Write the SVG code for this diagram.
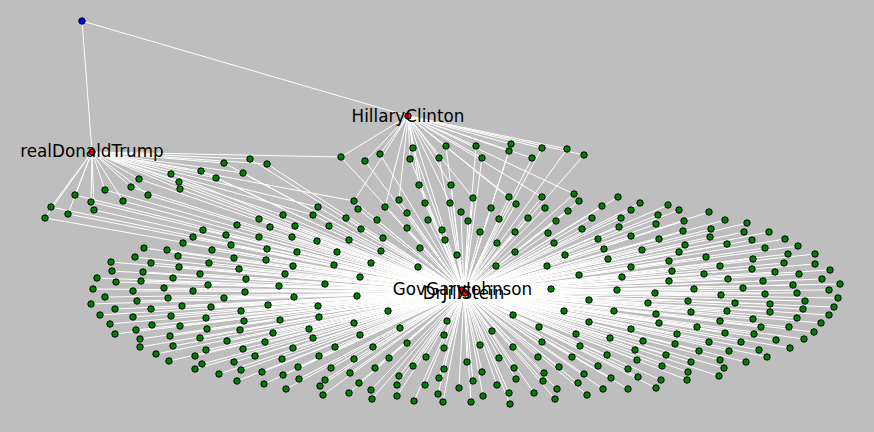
<svg xmlns="http://www.w3.org/2000/svg" width="874" height="432" viewBox="0 0 874 432">
<style>
.e path{stroke:#fff;stroke-width:1;fill:none}
.n circle{fill:#008000;stroke:#000;stroke-width:1}
.r circle{fill:#f00;stroke:#000;stroke-width:1}
.b circle{fill:#00f;stroke:#000;stroke-width:1}
text{font-family:"DejaVu Sans",Verdana,sans-serif;font-size:16.8px;fill:#000;text-anchor:middle}
</style>
<rect width="874" height="432" fill="#bebebe"/>
<g id="connectors" class="e">
<path d="M82 21L92 152"/><path d="M82 21L408 116"/>
<path d="M92 152L464 292"/><path d="M408 116L464 292"/>
<path d="M92 152L341 157"/><path d="M92 152L318 207"/><path d="M92 152L313 215"/><path d="M92 152L283 215"/><path d="M92 152L354 201"/>
<path d="M408 116L419 185"/><path d="M408 116L451 185"/><path d="M408 116L399 200"/><path d="M408 116L425 203"/><path d="M408 116L450 203"/><path d="M408 116L473 198"/><path d="M408 116L509 197"/><path d="M408 116L385 207"/><path d="M408 116L354 201"/><path d="M408 116L542 197"/><path d="M408 116L574 194"/><path d="M408 116L516 204"/>
<path d="M92 152L250 159"/><path d="M92 152L224 163"/><path d="M92 152L267 164"/><path d="M92 152L201 171"/><path d="M92 152L243 173"/><path d="M92 152L171 174"/><path d="M92 152L216 178"/><path d="M92 152L179 182"/><path d="M92 152L180 189"/><path d="M92 152L139 179"/><path d="M92 152L131 187"/><path d="M92 152L148 195"/><path d="M92 152L105 190"/><path d="M92 152L75 195"/><path d="M92 152L123 201"/><path d="M92 152L91 202"/><path d="M92 152L94 210"/><path d="M92 152L51 207"/><path d="M92 152L68 214"/><path d="M92 152L45 218"/>
<path d="M408 116L341 157"/><path d="M408 116L365 161"/><path d="M408 116L380 154"/><path d="M408 116L413 148"/><path d="M408 116L410 159"/><path d="M408 116L446 146"/><path d="M408 116L439 158"/><path d="M408 116L476 146"/><path d="M408 116L482 158"/><path d="M408 116L511 144"/><path d="M408 116L509 151"/><path d="M408 116L532 158"/><path d="M408 116L542 148"/><path d="M408 116L567 149"/><path d="M408 116L584 155"/>
<path d="M464 292L250 159"/><path d="M464 292L224 163"/><path d="M464 292L267 164"/><path d="M464 292L201 171"/><path d="M464 292L243 173"/><path d="M464 292L171 174"/><path d="M464 292L216 178"/><path d="M464 292L179 182"/><path d="M464 292L180 189"/><path d="M464 292L139 179"/><path d="M464 292L131 187"/><path d="M464 292L148 195"/><path d="M464 292L105 190"/><path d="M464 292L75 195"/><path d="M464 292L123 201"/><path d="M464 292L91 202"/><path d="M464 292L94 210"/><path d="M464 292L51 207"/><path d="M464 292L68 214"/><path d="M464 292L45 218"/>
<path d="M464 292L341 157"/><path d="M464 292L365 161"/><path d="M464 292L380 154"/><path d="M464 292L413 148"/><path d="M464 292L410 159"/><path d="M464 292L446 146"/><path d="M464 292L439 158"/><path d="M464 292L476 146"/><path d="M464 292L482 158"/><path d="M464 292L511 144"/><path d="M464 292L509 151"/><path d="M464 292L532 158"/><path d="M464 292L542 148"/><path d="M464 292L567 149"/><path d="M464 292L584 155"/>
<path d="M464 292L283 215"/><path d="M464 292L259 219"/><path d="M464 292L237 225"/><path d="M464 292L270 227"/><path d="M464 292L295 226"/><path d="M464 292L203 230"/><path d="M464 292L226 235"/><path d="M464 292L193 237"/><path d="M464 292L259 237"/><path d="M464 292L292 237"/><path d="M464 292L183 243"/><path d="M464 292L231 245"/><path d="M464 292L144 248"/><path d="M464 292L167 250"/><path d="M464 292L212 250"/><path d="M464 292L267 249"/><path d="M464 292L297 252"/><path d="M464 292L135 257"/><path d="M464 292L178 256"/><path d="M464 292L234 258"/><path d="M464 292L266 260"/><path d="M464 292L111 262"/><path d="M464 292L151 263"/><path d="M464 292L209 263"/><path d="M464 292L112 271"/><path d="M464 292L143 272"/><path d="M464 292L179 267"/><path d="M464 292L239 269"/><path d="M464 292L293 266"/><path d="M464 292L200 274"/><path d="M464 292L285 274"/><path d="M464 292L97 278"/><path d="M464 292L116 282"/><path d="M464 292L141 281"/><path d="M464 292L173 278"/><path d="M464 292L246 279"/><path d="M464 292L93 289"/><path d="M464 292L133 291"/><path d="M464 292L164 288"/><path d="M464 292L193 291"/><path d="M464 292L208 285"/><path d="M464 292L279 286"/><path d="M464 292L245 292"/><path d="M464 292L105 297"/><path d="M464 292L168 298"/><path d="M464 292L224 298"/><path d="M464 292L294 297"/><path d="M464 292L91 304"/><path d="M464 292L137 301"/><path d="M464 292L182 306"/><path d="M464 292L211 307"/><path d="M464 292L268 305"/><path d="M464 292L115 309"/><path d="M464 292L151 309"/><path d="M464 292L241 311"/><path d="M464 292L100 315"/><path d="M464 292L133 317"/><path d="M464 292L171 316"/><path d="M464 292L206 318"/><path d="M464 292L280 320"/><path d="M464 292L244 321"/><path d="M464 292L110 324"/><path d="M464 292L152 325"/><path d="M464 292L180 326"/><path d="M464 292L207 329"/><path d="M464 292L240 330"/><path d="M464 292L136 330"/><path d="M464 292L115 334"/><path d="M464 292L170 336"/><path d="M464 292L200 338"/><path d="M464 292L273 333"/><path d="M464 292L227 341"/><path d="M464 292L140 339"/><path d="M464 292L140 347"/><path d="M464 292L173 346"/><path d="M464 292L206 350"/><path d="M464 292L243 349"/><path d="M464 292L265 342"/><path d="M464 292L293 348"/><path d="M464 292L156 354"/><path d="M464 292L195 356"/><path d="M464 292L255 356"/><path d="M464 292L282 359"/><path d="M464 292L169 361"/><path d="M464 292L202 364"/><path d="M464 292L234 362"/><path d="M464 292L298 367"/><path d="M464 292L195 369"/><path d="M464 292L241 370"/><path d="M464 292L262 372"/><path d="M464 292L283 375"/><path d="M464 292L219 374"/><path d="M464 292L299 379"/><path d="M464 292L237 381"/><path d="M464 292L264 384"/><path d="M464 292L286 389"/>
<path d="M464 292L419 185"/><path d="M464 292L451 185"/><path d="M464 292L354 201"/><path d="M464 292L318 207"/><path d="M464 292L358 209"/><path d="M464 292L399 200"/><path d="M464 292L385 207"/><path d="M464 292L425 203"/><path d="M464 292L450 203"/><path d="M464 292L473 198"/><path d="M464 292L509 197"/><path d="M464 292L516 204"/><path d="M464 292L542 197"/><path d="M464 292L574 194"/><path d="M464 292L579 201"/><path d="M464 292L545 208"/><path d="M464 292L568 211"/><path d="M464 292L313 215"/><path d="M464 292L346 218"/><path d="M464 292L407 213"/><path d="M464 292L461 212"/><path d="M464 292L491 208"/><path d="M464 292L377 220"/><path d="M464 292L428 220"/><path d="M464 292L468 221"/><path d="M464 292L499 219"/><path d="M464 292L528 218"/><path d="M464 292L556 221"/><path d="M464 292L329 226"/><path d="M464 292L361 229"/><path d="M464 292L407 228"/><path d="M464 292L442 230"/><path d="M464 292L480 232"/><path d="M464 292L515 232"/><path d="M464 292L548 233"/><path d="M464 292L582 229"/><path d="M464 292L317 241"/><path d="M464 292L349 240"/><path d="M464 292L383 238"/><path d="M464 292L445 240"/><path d="M464 292L497 243"/><path d="M464 292L554 243"/><path d="M464 292L420 248"/><path d="M464 292L337 252"/><path d="M464 292L381 251"/><path d="M464 292L457 255"/><path d="M464 292L515 252"/><path d="M464 292L565 255"/><path d="M464 292L334 265"/><path d="M464 292L371 263"/><path d="M464 292L418 267"/><path d="M464 292L496 266"/><path d="M464 292L547 266"/><path d="M464 292L579 275"/><path d="M464 292L360 277"/><path d="M464 292L325 284"/><path d="M464 292L357 296"/><path d="M464 292L551 289"/><path d="M464 292L589 300"/>
<path d="M464 292L318 306"/><path d="M464 292L319 317"/><path d="M464 292L388 311"/><path d="M464 292L354 323"/><path d="M464 292L309 329"/><path d="M464 292L400 328"/><path d="M464 292L313 338"/><path d="M464 292L360 335"/><path d="M464 292L447 321"/><path d="M464 292L444 335"/><path d="M464 292L407 343"/><path d="M464 292L444 348"/><path d="M464 292L335 347"/><path d="M464 292L373 347"/><path d="M464 292L513 315"/><path d="M464 292L564 311"/><path d="M464 292L492 331"/><path d="M464 292L539 327"/><path d="M464 292L576 334"/><path d="M464 292L480 345"/><path d="M464 292L513 347"/><path d="M464 292L542 342"/><path d="M464 292L319 356"/><path d="M464 292L354 359"/><path d="M464 292L389 358"/><path d="M464 292L426 357"/><path d="M464 292L467 362"/><path d="M464 292L499 358"/><path d="M464 292L538 357"/><path d="M464 292L572 357"/><path d="M464 292L331 368"/><path d="M464 292L375 368"/><path d="M464 292L413 366"/><path d="M464 292L444 369"/><path d="M464 292L482 372"/><path d="M464 292L514 368"/><path d="M464 292L559 367"/><path d="M464 292L325 380"/><path d="M464 292L350 373"/><path d="M464 292L359 383"/><path d="M464 292L399 376"/><path d="M464 292L439 378"/><path d="M464 292L473 381"/><path d="M464 292L516 379"/><path d="M464 292L544 373"/><path d="M464 292L543 381"/><path d="M464 292L578 383"/><path d="M464 292L320 386"/><path d="M464 292L323 395"/><path d="M464 292L349 393"/><path d="M464 292L371 390"/><path d="M464 292L397 385"/><path d="M464 292L425 385"/><path d="M464 292L459 388"/><path d="M464 292L497 385"/><path d="M464 292L509 393"/><path d="M464 292L534 393"/><path d="M464 292L557 389"/><path d="M464 292L372 399"/><path d="M464 292L397 396"/><path d="M464 292L414 401"/><path d="M464 292L438 394"/><path d="M464 292L443 402"/><path d="M464 292L471 402"/><path d="M464 292L483 396"/><path d="M464 292L510 404"/><path d="M464 292L555 399"/>
<path d="M464 292L618 197"/><path d="M464 292L602 206"/><path d="M464 292L640 203"/><path d="M464 292L631 210"/><path d="M464 292L668 205"/><path d="M464 292L679 210"/><path d="M464 292L709 212"/><path d="M464 292L592 218"/><path d="M464 292L621 218"/><path d="M464 292L658 215"/><path d="M464 292L684 221"/><path d="M464 292L725 220"/><path d="M464 292L747 223"/><path d="M464 292L619 227"/><path d="M464 292L656 224"/><path d="M464 292L683 231"/><path d="M464 292L711 229"/><path d="M464 292L744 232"/><path d="M464 292L769 232"/><path d="M464 292L598 239"/><path d="M464 292L631 236"/><path d="M464 292L659 239"/><path d="M464 292L710 237"/><path d="M464 292L752 240"/><path d="M464 292L785 239"/><path d="M464 292L604 249"/><path d="M464 292L642 250"/><path d="M464 292L685 245"/><path d="M464 292L679 252"/><path d="M464 292L727 244"/><path d="M464 292L765 248"/><path d="M464 292L798 246"/><path d="M464 292L608 259"/><path d="M464 292L669 261"/><path d="M464 292L706 257"/><path d="M464 292L753 259"/><path d="M464 292L788 254"/><path d="M464 292L815 254"/><path d="M464 292L631 267"/><path d="M464 292L672 271"/><path d="M464 292L720 266"/><path d="M464 292L752 269"/><path d="M464 292L784 263"/><path d="M464 292L815 264"/><path d="M464 292L830 270"/><path d="M464 292L622 277"/><path d="M464 292L669 281"/><path d="M464 292L704 274"/><path d="M464 292L728 279"/><path d="M464 292L775 272"/><path d="M464 292L799 274"/><path d="M464 292L822 279"/><path d="M464 292L840 284"/><path d="M464 292L763 281"/><path d="M464 292L793 285"/><path d="M464 292L829 290"/><path d="M464 292L838 298"/><path d="M464 292L617 290"/><path d="M464 292L655 293"/><path d="M464 292L694 289"/><path d="M464 292L743 288"/><path d="M464 292L765 294"/><path d="M464 292L797 293"/><path d="M464 292L834 307"/><path d="M464 292L648 303"/><path d="M464 292L688 301"/><path d="M464 292L721 295"/><path d="M464 292L735 303"/><path d="M464 292L770 304"/><path d="M464 292L805 301"/><path d="M464 292L829 315"/><path d="M464 292L614 311"/><path d="M464 292L656 314"/><path d="M464 292L691 312"/><path d="M464 292L727 311"/><path d="M464 292L770 312"/><path d="M464 292L803 309"/><path d="M464 292L821 323"/><path d="M464 292L589 322"/><path d="M464 292L659 323"/><path d="M464 292L720 321"/><path d="M464 292L753 319"/><path d="M464 292L797 318"/><path d="M464 292L631 329"/><path d="M464 292L697 327"/><path d="M464 292L761 327"/><path d="M464 292L789 327"/><path d="M464 292L814 332"/><path d="M464 292L610 338"/><path d="M464 292L677 334"/><path d="M464 292L725 333"/><path d="M464 292L754 334"/><path d="M464 292L580 346"/><path d="M464 292L643 341"/><path d="M464 292L675 344"/><path d="M464 292L709 342"/><path d="M464 292L741 342"/><path d="M464 292L776 340"/><path d="M464 292L804 339"/><path d="M464 292L607 355"/><path d="M464 292L635 350"/><path d="M464 292L666 355"/><path d="M464 292L699 351"/><path d="M464 292L729 351"/><path d="M464 292L759 350"/><path d="M464 292L790 348"/><path d="M464 292L637 360"/><path d="M464 292L691 362"/><path d="M464 292L720 360"/><path d="M464 292L746 362"/><path d="M464 292L767 357"/><path d="M464 292L598 366"/><path d="M464 292L628 369"/><path d="M464 292L662 366"/><path d="M464 292L688 372"/><path d="M464 292L724 368"/><path d="M464 292L584 374"/><path d="M464 292L638 377"/><path d="M464 292L611 378"/><path d="M464 292L661 380"/><path d="M464 292L687 380"/><path d="M464 292L719 376"/><path d="M464 292L603 389"/><path d="M464 292L628 389"/><path d="M464 292L656 388"/><path d="M464 292L587 395"/>
</g>
<g id="nodes" class="n">
<g id="t1"><circle cx="250" cy="159" r="3.2"/></g><g id="t2"><circle cx="224" cy="163" r="3.2"/></g><g id="t3"><circle cx="267" cy="164" r="3.2"/></g><g id="t4"><circle cx="201" cy="171" r="3.2"/></g><g id="t5"><circle cx="243" cy="173" r="3.2"/></g><g id="t6"><circle cx="171" cy="174" r="3.2"/></g><g id="t7"><circle cx="216" cy="178" r="3.2"/></g><g id="t8"><circle cx="179" cy="182" r="3.2"/></g><g id="t9"><circle cx="180" cy="189" r="3.2"/></g><g id="t10"><circle cx="139" cy="179" r="3.2"/></g><g id="t11"><circle cx="131" cy="187" r="3.2"/></g><g id="t12"><circle cx="148" cy="195" r="3.2"/></g><g id="t13"><circle cx="105" cy="190" r="3.2"/></g><g id="t14"><circle cx="75" cy="195" r="3.2"/></g><g id="t15"><circle cx="123" cy="201" r="3.2"/></g><g id="t16"><circle cx="91" cy="202" r="3.2"/></g><g id="t17"><circle cx="94" cy="210" r="3.2"/></g><g id="t18"><circle cx="51" cy="207" r="3.2"/></g><g id="t19"><circle cx="68" cy="214" r="3.2"/></g><g id="t20"><circle cx="45" cy="218" r="3.2"/></g>
<g id="h1"><circle cx="341" cy="157" r="3.2"/></g><g id="h2"><circle cx="365" cy="161" r="3.2"/></g><g id="h3"><circle cx="380" cy="154" r="3.2"/></g><g id="h4"><circle cx="413" cy="148" r="3.2"/></g><g id="h5"><circle cx="410" cy="159" r="3.2"/></g><g id="h6"><circle cx="446" cy="146" r="3.2"/></g><g id="h7"><circle cx="439" cy="158" r="3.2"/></g><g id="h8"><circle cx="476" cy="146" r="3.2"/></g><g id="h9"><circle cx="482" cy="158" r="3.2"/></g><g id="h10"><circle cx="511" cy="144" r="3.2"/></g><g id="h11"><circle cx="509" cy="151" r="3.2"/></g><g id="h12"><circle cx="532" cy="158" r="3.2"/></g><g id="h13"><circle cx="542" cy="148" r="3.2"/></g><g id="h14"><circle cx="567" cy="149" r="3.2"/></g><g id="h15"><circle cx="584" cy="155" r="3.2"/></g>
<g id="a1"><circle cx="283" cy="215" r="3.2"/></g><g id="a2"><circle cx="259" cy="219" r="3.2"/></g><g id="a3"><circle cx="237" cy="225" r="3.2"/></g><g id="a4"><circle cx="270" cy="227" r="3.2"/></g><g id="a5"><circle cx="295" cy="226" r="3.2"/></g><g id="a6"><circle cx="203" cy="230" r="3.2"/></g><g id="a7"><circle cx="226" cy="235" r="3.2"/></g><g id="a8"><circle cx="193" cy="237" r="3.2"/></g><g id="a9"><circle cx="259" cy="237" r="3.2"/></g><g id="a10"><circle cx="292" cy="237" r="3.2"/></g><g id="a11"><circle cx="183" cy="243" r="3.2"/></g><g id="a12"><circle cx="231" cy="245" r="3.2"/></g><g id="a13"><circle cx="144" cy="248" r="3.2"/></g><g id="a14"><circle cx="167" cy="250" r="3.2"/></g><g id="a15"><circle cx="212" cy="250" r="3.2"/></g><g id="a16"><circle cx="267" cy="249" r="3.2"/></g><g id="a17"><circle cx="297" cy="252" r="3.2"/></g><g id="a18"><circle cx="135" cy="257" r="3.2"/></g><g id="a19"><circle cx="178" cy="256" r="3.2"/></g><g id="a20"><circle cx="234" cy="258" r="3.2"/></g><g id="a21"><circle cx="266" cy="260" r="3.2"/></g><g id="a22"><circle cx="111" cy="262" r="3.2"/></g><g id="a23"><circle cx="151" cy="263" r="3.2"/></g><g id="a24"><circle cx="209" cy="263" r="3.2"/></g><g id="a25"><circle cx="112" cy="271" r="3.2"/></g><g id="a26"><circle cx="143" cy="272" r="3.2"/></g><g id="a27"><circle cx="179" cy="267" r="3.2"/></g><g id="a28"><circle cx="239" cy="269" r="3.2"/></g><g id="a29"><circle cx="293" cy="266" r="3.2"/></g><g id="a30"><circle cx="200" cy="274" r="3.2"/></g><g id="a31"><circle cx="285" cy="274" r="3.2"/></g><g id="a32"><circle cx="97" cy="278" r="3.2"/></g><g id="a33"><circle cx="116" cy="282" r="3.2"/></g><g id="a34"><circle cx="141" cy="281" r="3.2"/></g><g id="a35"><circle cx="173" cy="278" r="3.2"/></g><g id="a36"><circle cx="246" cy="279" r="3.2"/></g><g id="a37"><circle cx="93" cy="289" r="3.2"/></g><g id="a38"><circle cx="133" cy="291" r="3.2"/></g><g id="a39"><circle cx="164" cy="288" r="3.2"/></g><g id="a40"><circle cx="193" cy="291" r="3.2"/></g><g id="a41"><circle cx="208" cy="285" r="3.2"/></g><g id="a42"><circle cx="279" cy="286" r="3.2"/></g><g id="a43"><circle cx="245" cy="292" r="3.2"/></g><g id="a44"><circle cx="105" cy="297" r="3.2"/></g><g id="a45"><circle cx="168" cy="298" r="3.2"/></g><g id="a46"><circle cx="224" cy="298" r="3.2"/></g><g id="a47"><circle cx="294" cy="297" r="3.2"/></g><g id="a48"><circle cx="91" cy="304" r="3.2"/></g><g id="a49"><circle cx="137" cy="301" r="3.2"/></g><g id="a50"><circle cx="182" cy="306" r="3.2"/></g><g id="a51"><circle cx="211" cy="307" r="3.2"/></g><g id="a52"><circle cx="268" cy="305" r="3.2"/></g><g id="a53"><circle cx="115" cy="309" r="3.2"/></g><g id="a54"><circle cx="151" cy="309" r="3.2"/></g><g id="a55"><circle cx="241" cy="311" r="3.2"/></g><g id="a56"><circle cx="100" cy="315" r="3.2"/></g><g id="a57"><circle cx="133" cy="317" r="3.2"/></g><g id="a58"><circle cx="171" cy="316" r="3.2"/></g><g id="a59"><circle cx="206" cy="318" r="3.2"/></g><g id="a60"><circle cx="280" cy="320" r="3.2"/></g><g id="a61"><circle cx="244" cy="321" r="3.2"/></g><g id="a62"><circle cx="110" cy="324" r="3.2"/></g><g id="a63"><circle cx="152" cy="325" r="3.2"/></g><g id="a64"><circle cx="180" cy="326" r="3.2"/></g><g id="a65"><circle cx="207" cy="329" r="3.2"/></g><g id="a66"><circle cx="240" cy="330" r="3.2"/></g><g id="a67"><circle cx="136" cy="330" r="3.2"/></g><g id="a68"><circle cx="115" cy="334" r="3.2"/></g><g id="a69"><circle cx="170" cy="336" r="3.2"/></g><g id="a70"><circle cx="200" cy="338" r="3.2"/></g><g id="a71"><circle cx="273" cy="333" r="3.2"/></g><g id="a72"><circle cx="227" cy="341" r="3.2"/></g><g id="a73"><circle cx="140" cy="339" r="3.2"/></g><g id="a74"><circle cx="140" cy="347" r="3.2"/></g><g id="a75"><circle cx="173" cy="346" r="3.2"/></g><g id="a76"><circle cx="206" cy="350" r="3.2"/></g><g id="a77"><circle cx="243" cy="349" r="3.2"/></g><g id="a78"><circle cx="265" cy="342" r="3.2"/></g><g id="a79"><circle cx="293" cy="348" r="3.2"/></g><g id="a80"><circle cx="156" cy="354" r="3.2"/></g><g id="a81"><circle cx="195" cy="356" r="3.2"/></g><g id="a82"><circle cx="255" cy="356" r="3.2"/></g><g id="a83"><circle cx="282" cy="359" r="3.2"/></g><g id="a84"><circle cx="169" cy="361" r="3.2"/></g><g id="a85"><circle cx="202" cy="364" r="3.2"/></g><g id="a86"><circle cx="234" cy="362" r="3.2"/></g><g id="a87"><circle cx="298" cy="367" r="3.2"/></g><g id="a88"><circle cx="195" cy="369" r="3.2"/></g><g id="a89"><circle cx="241" cy="370" r="3.2"/></g><g id="a90"><circle cx="262" cy="372" r="3.2"/></g><g id="a91"><circle cx="283" cy="375" r="3.2"/></g><g id="a92"><circle cx="219" cy="374" r="3.2"/></g><g id="a93"><circle cx="299" cy="379" r="3.2"/></g><g id="a94"><circle cx="237" cy="381" r="3.2"/></g><g id="a95"><circle cx="264" cy="384" r="3.2"/></g><g id="a96"><circle cx="286" cy="389" r="3.2"/></g>
<g id="b1"><circle cx="419" cy="185" r="3.2"/></g><g id="b2"><circle cx="451" cy="185" r="3.2"/></g><g id="b3"><circle cx="354" cy="201" r="3.2"/></g><g id="b4"><circle cx="318" cy="207" r="3.2"/></g><g id="b5"><circle cx="358" cy="209" r="3.2"/></g><g id="b6"><circle cx="399" cy="200" r="3.2"/></g><g id="b7"><circle cx="385" cy="207" r="3.2"/></g><g id="b8"><circle cx="425" cy="203" r="3.2"/></g><g id="b9"><circle cx="450" cy="203" r="3.2"/></g><g id="b10"><circle cx="473" cy="198" r="3.2"/></g><g id="b11"><circle cx="509" cy="197" r="3.2"/></g><g id="b12"><circle cx="516" cy="204" r="3.2"/></g><g id="b13"><circle cx="542" cy="197" r="3.2"/></g><g id="b14"><circle cx="574" cy="194" r="3.2"/></g><g id="b15"><circle cx="579" cy="201" r="3.2"/></g><g id="b16"><circle cx="545" cy="208" r="3.2"/></g><g id="b17"><circle cx="568" cy="211" r="3.2"/></g><g id="b18"><circle cx="313" cy="215" r="3.2"/></g><g id="b19"><circle cx="346" cy="218" r="3.2"/></g><g id="b20"><circle cx="407" cy="213" r="3.2"/></g><g id="b21"><circle cx="461" cy="212" r="3.2"/></g><g id="b22"><circle cx="491" cy="208" r="3.2"/></g><g id="b23"><circle cx="377" cy="220" r="3.2"/></g><g id="b24"><circle cx="428" cy="220" r="3.2"/></g><g id="b25"><circle cx="468" cy="221" r="3.2"/></g><g id="b26"><circle cx="499" cy="219" r="3.2"/></g><g id="b27"><circle cx="528" cy="218" r="3.2"/></g><g id="b28"><circle cx="556" cy="221" r="3.2"/></g><g id="b29"><circle cx="329" cy="226" r="3.2"/></g><g id="b30"><circle cx="361" cy="229" r="3.2"/></g><g id="b31"><circle cx="407" cy="228" r="3.2"/></g><g id="b32"><circle cx="442" cy="230" r="3.2"/></g><g id="b33"><circle cx="480" cy="232" r="3.2"/></g><g id="b34"><circle cx="515" cy="232" r="3.2"/></g><g id="b35"><circle cx="548" cy="233" r="3.2"/></g><g id="b36"><circle cx="582" cy="229" r="3.2"/></g><g id="b37"><circle cx="317" cy="241" r="3.2"/></g><g id="b38"><circle cx="349" cy="240" r="3.2"/></g><g id="b39"><circle cx="383" cy="238" r="3.2"/></g><g id="b40"><circle cx="445" cy="240" r="3.2"/></g><g id="b41"><circle cx="497" cy="243" r="3.2"/></g><g id="b42"><circle cx="554" cy="243" r="3.2"/></g><g id="b43"><circle cx="420" cy="248" r="3.2"/></g><g id="b44"><circle cx="337" cy="252" r="3.2"/></g><g id="b45"><circle cx="381" cy="251" r="3.2"/></g><g id="b46"><circle cx="457" cy="255" r="3.2"/></g><g id="b47"><circle cx="515" cy="252" r="3.2"/></g><g id="b48"><circle cx="565" cy="255" r="3.2"/></g><g id="b49"><circle cx="334" cy="265" r="3.2"/></g><g id="b50"><circle cx="371" cy="263" r="3.2"/></g><g id="b51"><circle cx="418" cy="267" r="3.2"/></g><g id="b52"><circle cx="496" cy="266" r="3.2"/></g><g id="b53"><circle cx="547" cy="266" r="3.2"/></g><g id="b54"><circle cx="579" cy="275" r="3.2"/></g><g id="b55"><circle cx="360" cy="277" r="3.2"/></g><g id="b56"><circle cx="325" cy="284" r="3.2"/></g><g id="b57"><circle cx="357" cy="296" r="3.2"/></g><g id="b58"><circle cx="551" cy="289" r="3.2"/></g><g id="b59"><circle cx="589" cy="300" r="3.2"/></g>
<g id="c1"><circle cx="318" cy="306" r="3.2"/></g><g id="c2"><circle cx="319" cy="317" r="3.2"/></g><g id="c3"><circle cx="388" cy="311" r="3.2"/></g><g id="c4"><circle cx="354" cy="323" r="3.2"/></g><g id="c5"><circle cx="309" cy="329" r="3.2"/></g><g id="c6"><circle cx="400" cy="328" r="3.2"/></g><g id="c7"><circle cx="313" cy="338" r="3.2"/></g><g id="c8"><circle cx="360" cy="335" r="3.2"/></g><g id="c9"><circle cx="447" cy="321" r="3.2"/></g><g id="c10"><circle cx="444" cy="335" r="3.2"/></g><g id="c11"><circle cx="407" cy="343" r="3.2"/></g><g id="c12"><circle cx="444" cy="348" r="3.2"/></g><g id="c13"><circle cx="335" cy="347" r="3.2"/></g><g id="c14"><circle cx="373" cy="347" r="3.2"/></g><g id="c15"><circle cx="513" cy="315" r="3.2"/></g><g id="c16"><circle cx="564" cy="311" r="3.2"/></g><g id="c17"><circle cx="492" cy="331" r="3.2"/></g><g id="c18"><circle cx="539" cy="327" r="3.2"/></g><g id="c19"><circle cx="576" cy="334" r="3.2"/></g><g id="c20"><circle cx="480" cy="345" r="3.2"/></g><g id="c21"><circle cx="513" cy="347" r="3.2"/></g><g id="c22"><circle cx="542" cy="342" r="3.2"/></g><g id="c23"><circle cx="319" cy="356" r="3.2"/></g><g id="c24"><circle cx="354" cy="359" r="3.2"/></g><g id="c25"><circle cx="389" cy="358" r="3.2"/></g><g id="c26"><circle cx="426" cy="357" r="3.2"/></g><g id="c27"><circle cx="467" cy="362" r="3.2"/></g><g id="c28"><circle cx="499" cy="358" r="3.2"/></g><g id="c29"><circle cx="538" cy="357" r="3.2"/></g><g id="c30"><circle cx="572" cy="357" r="3.2"/></g><g id="c31"><circle cx="331" cy="368" r="3.2"/></g><g id="c32"><circle cx="375" cy="368" r="3.2"/></g><g id="c33"><circle cx="413" cy="366" r="3.2"/></g><g id="c34"><circle cx="444" cy="369" r="3.2"/></g><g id="c35"><circle cx="482" cy="372" r="3.2"/></g><g id="c36"><circle cx="514" cy="368" r="3.2"/></g><g id="c37"><circle cx="559" cy="367" r="3.2"/></g><g id="c38"><circle cx="325" cy="380" r="3.2"/></g><g id="c39"><circle cx="350" cy="373" r="3.2"/></g><g id="c40"><circle cx="359" cy="383" r="3.2"/></g><g id="c41"><circle cx="399" cy="376" r="3.2"/></g><g id="c42"><circle cx="439" cy="378" r="3.2"/></g><g id="c43"><circle cx="473" cy="381" r="3.2"/></g><g id="c44"><circle cx="516" cy="379" r="3.2"/></g><g id="c45"><circle cx="544" cy="373" r="3.2"/></g><g id="c46"><circle cx="543" cy="381" r="3.2"/></g><g id="c47"><circle cx="578" cy="383" r="3.2"/></g><g id="c48"><circle cx="320" cy="386" r="3.2"/></g><g id="c49"><circle cx="323" cy="395" r="3.2"/></g><g id="c50"><circle cx="349" cy="393" r="3.2"/></g><g id="c51"><circle cx="371" cy="390" r="3.2"/></g><g id="c52"><circle cx="397" cy="385" r="3.2"/></g><g id="c53"><circle cx="425" cy="385" r="3.2"/></g><g id="c54"><circle cx="459" cy="388" r="3.2"/></g><g id="c55"><circle cx="497" cy="385" r="3.2"/></g><g id="c56"><circle cx="509" cy="393" r="3.2"/></g><g id="c57"><circle cx="534" cy="393" r="3.2"/></g><g id="c58"><circle cx="557" cy="389" r="3.2"/></g><g id="c59"><circle cx="372" cy="399" r="3.2"/></g><g id="c60"><circle cx="397" cy="396" r="3.2"/></g><g id="c61"><circle cx="414" cy="401" r="3.2"/></g><g id="c62"><circle cx="438" cy="394" r="3.2"/></g><g id="c63"><circle cx="443" cy="402" r="3.2"/></g><g id="c64"><circle cx="471" cy="402" r="3.2"/></g><g id="c65"><circle cx="483" cy="396" r="3.2"/></g><g id="c66"><circle cx="510" cy="404" r="3.2"/></g><g id="c67"><circle cx="555" cy="399" r="3.2"/></g>
<g id="d1"><circle cx="618" cy="197" r="3.2"/></g><g id="d2"><circle cx="602" cy="206" r="3.2"/></g><g id="d3"><circle cx="640" cy="203" r="3.2"/></g><g id="d4"><circle cx="631" cy="210" r="3.2"/></g><g id="d5"><circle cx="668" cy="205" r="3.2"/></g><g id="d6"><circle cx="679" cy="210" r="3.2"/></g><g id="d7"><circle cx="709" cy="212" r="3.2"/></g><g id="d8"><circle cx="592" cy="218" r="3.2"/></g><g id="d9"><circle cx="621" cy="218" r="3.2"/></g><g id="d10"><circle cx="658" cy="215" r="3.2"/></g><g id="d11"><circle cx="684" cy="221" r="3.2"/></g><g id="d12"><circle cx="725" cy="220" r="3.2"/></g><g id="d13"><circle cx="747" cy="223" r="3.2"/></g><g id="d14"><circle cx="619" cy="227" r="3.2"/></g><g id="d15"><circle cx="656" cy="224" r="3.2"/></g><g id="d16"><circle cx="683" cy="231" r="3.2"/></g><g id="d17"><circle cx="711" cy="229" r="3.2"/></g><g id="d18"><circle cx="744" cy="232" r="3.2"/></g><g id="d19"><circle cx="769" cy="232" r="3.2"/></g><g id="d20"><circle cx="598" cy="239" r="3.2"/></g><g id="d21"><circle cx="631" cy="236" r="3.2"/></g><g id="d22"><circle cx="659" cy="239" r="3.2"/></g><g id="d23"><circle cx="710" cy="237" r="3.2"/></g><g id="d24"><circle cx="752" cy="240" r="3.2"/></g><g id="d25"><circle cx="785" cy="239" r="3.2"/></g><g id="d26"><circle cx="604" cy="249" r="3.2"/></g><g id="d27"><circle cx="642" cy="250" r="3.2"/></g><g id="d28"><circle cx="685" cy="245" r="3.2"/></g><g id="d29"><circle cx="679" cy="252" r="3.2"/></g><g id="d30"><circle cx="727" cy="244" r="3.2"/></g><g id="d31"><circle cx="765" cy="248" r="3.2"/></g><g id="d32"><circle cx="798" cy="246" r="3.2"/></g><g id="d33"><circle cx="608" cy="259" r="3.2"/></g><g id="d34"><circle cx="669" cy="261" r="3.2"/></g><g id="d35"><circle cx="706" cy="257" r="3.2"/></g><g id="d36"><circle cx="753" cy="259" r="3.2"/></g><g id="d37"><circle cx="788" cy="254" r="3.2"/></g><g id="d38"><circle cx="815" cy="254" r="3.2"/></g><g id="d39"><circle cx="631" cy="267" r="3.2"/></g><g id="d40"><circle cx="672" cy="271" r="3.2"/></g><g id="d41"><circle cx="720" cy="266" r="3.2"/></g><g id="d42"><circle cx="752" cy="269" r="3.2"/></g><g id="d43"><circle cx="784" cy="263" r="3.2"/></g><g id="d44"><circle cx="815" cy="264" r="3.2"/></g><g id="d45"><circle cx="830" cy="270" r="3.2"/></g><g id="d46"><circle cx="622" cy="277" r="3.2"/></g><g id="d47"><circle cx="669" cy="281" r="3.2"/></g><g id="d48"><circle cx="704" cy="274" r="3.2"/></g><g id="d49"><circle cx="728" cy="279" r="3.2"/></g><g id="d50"><circle cx="775" cy="272" r="3.2"/></g><g id="d51"><circle cx="799" cy="274" r="3.2"/></g><g id="d52"><circle cx="822" cy="279" r="3.2"/></g><g id="d53"><circle cx="840" cy="284" r="3.2"/></g><g id="d54"><circle cx="763" cy="281" r="3.2"/></g><g id="d55"><circle cx="793" cy="285" r="3.2"/></g><g id="d56"><circle cx="829" cy="290" r="3.2"/></g><g id="d57"><circle cx="838" cy="298" r="3.2"/></g><g id="d58"><circle cx="617" cy="290" r="3.2"/></g><g id="d59"><circle cx="655" cy="293" r="3.2"/></g><g id="d60"><circle cx="694" cy="289" r="3.2"/></g><g id="d61"><circle cx="743" cy="288" r="3.2"/></g><g id="d62"><circle cx="765" cy="294" r="3.2"/></g><g id="d63"><circle cx="797" cy="293" r="3.2"/></g><g id="d64"><circle cx="834" cy="307" r="3.2"/></g><g id="d65"><circle cx="648" cy="303" r="3.2"/></g><g id="d66"><circle cx="688" cy="301" r="3.2"/></g><g id="d67"><circle cx="721" cy="295" r="3.2"/></g><g id="d68"><circle cx="735" cy="303" r="3.2"/></g><g id="d69"><circle cx="770" cy="304" r="3.2"/></g><g id="d70"><circle cx="805" cy="301" r="3.2"/></g><g id="d71"><circle cx="829" cy="315" r="3.2"/></g><g id="d72"><circle cx="614" cy="311" r="3.2"/></g><g id="d73"><circle cx="656" cy="314" r="3.2"/></g><g id="d74"><circle cx="691" cy="312" r="3.2"/></g><g id="d75"><circle cx="727" cy="311" r="3.2"/></g><g id="d76"><circle cx="770" cy="312" r="3.2"/></g><g id="d77"><circle cx="803" cy="309" r="3.2"/></g><g id="d78"><circle cx="821" cy="323" r="3.2"/></g><g id="d79"><circle cx="589" cy="322" r="3.2"/></g><g id="d80"><circle cx="659" cy="323" r="3.2"/></g><g id="d81"><circle cx="720" cy="321" r="3.2"/></g><g id="d82"><circle cx="753" cy="319" r="3.2"/></g><g id="d83"><circle cx="797" cy="318" r="3.2"/></g><g id="d84"><circle cx="631" cy="329" r="3.2"/></g><g id="d85"><circle cx="697" cy="327" r="3.2"/></g><g id="d86"><circle cx="761" cy="327" r="3.2"/></g><g id="d87"><circle cx="789" cy="327" r="3.2"/></g><g id="d88"><circle cx="814" cy="332" r="3.2"/></g><g id="d89"><circle cx="610" cy="338" r="3.2"/></g><g id="d90"><circle cx="677" cy="334" r="3.2"/></g><g id="d91"><circle cx="725" cy="333" r="3.2"/></g><g id="d92"><circle cx="754" cy="334" r="3.2"/></g><g id="d93"><circle cx="580" cy="346" r="3.2"/></g><g id="d94"><circle cx="643" cy="341" r="3.2"/></g><g id="d95"><circle cx="675" cy="344" r="3.2"/></g><g id="d96"><circle cx="709" cy="342" r="3.2"/></g><g id="d97"><circle cx="741" cy="342" r="3.2"/></g><g id="d98"><circle cx="776" cy="340" r="3.2"/></g><g id="d99"><circle cx="804" cy="339" r="3.2"/></g><g id="d100"><circle cx="607" cy="355" r="3.2"/></g><g id="d101"><circle cx="635" cy="350" r="3.2"/></g><g id="d102"><circle cx="666" cy="355" r="3.2"/></g><g id="d103"><circle cx="699" cy="351" r="3.2"/></g><g id="d104"><circle cx="729" cy="351" r="3.2"/></g><g id="d105"><circle cx="759" cy="350" r="3.2"/></g><g id="d106"><circle cx="790" cy="348" r="3.2"/></g><g id="d107"><circle cx="637" cy="360" r="3.2"/></g><g id="d108"><circle cx="691" cy="362" r="3.2"/></g><g id="d109"><circle cx="720" cy="360" r="3.2"/></g><g id="d110"><circle cx="746" cy="362" r="3.2"/></g><g id="d111"><circle cx="767" cy="357" r="3.2"/></g><g id="d112"><circle cx="598" cy="366" r="3.2"/></g><g id="d113"><circle cx="628" cy="369" r="3.2"/></g><g id="d114"><circle cx="662" cy="366" r="3.2"/></g><g id="d115"><circle cx="688" cy="372" r="3.2"/></g><g id="d116"><circle cx="724" cy="368" r="3.2"/></g><g id="d117"><circle cx="584" cy="374" r="3.2"/></g><g id="d118"><circle cx="638" cy="377" r="3.2"/></g><g id="d119"><circle cx="611" cy="378" r="3.2"/></g><g id="d120"><circle cx="661" cy="380" r="3.2"/></g><g id="d121"><circle cx="687" cy="380" r="3.2"/></g><g id="d122"><circle cx="719" cy="376" r="3.2"/></g><g id="d123"><circle cx="603" cy="389" r="3.2"/></g><g id="d124"><circle cx="628" cy="389" r="3.2"/></g><g id="d125"><circle cx="656" cy="388" r="3.2"/></g><g id="d126"><circle cx="587" cy="395" r="3.2"/></g>
</g>
<g id="unknown" class="b"><circle cx="82" cy="21" r="3.2"/></g>
<g id="realDonaldTrump" class="r"><circle cx="92" cy="152" r="3.2"/><text x="92" y="157">realDonaldTrump</text></g>
<g id="HillaryClinton" class="r"><circle cx="408" cy="116" r="3.2"/><text x="408" y="122">HillaryClinton</text></g>
<g id="GovGaryJohnson" class="r"><circle cx="462" cy="290" r="3.2"/></g>
<g id="DrJillStein" class="r"><circle cx="465" cy="293" r="3.2"/></g>
<g id="labels"><text x="462.5" y="295">GovGaryJohnson</text><text x="463.5" y="299">DrJillStein</text></g>
</svg>
